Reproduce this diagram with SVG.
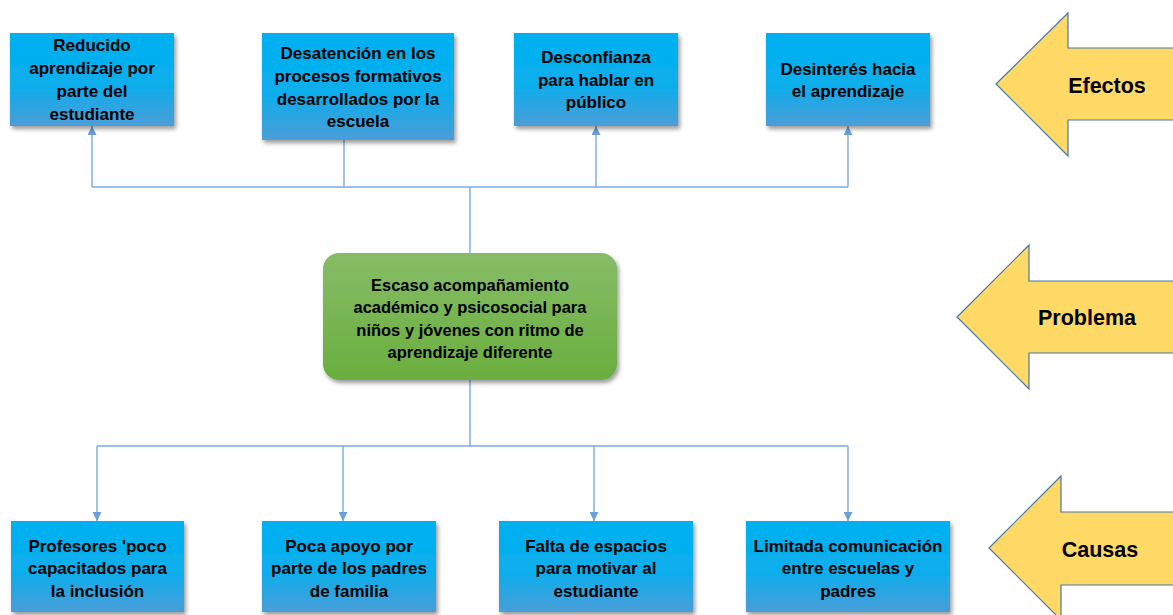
<svg xmlns="http://www.w3.org/2000/svg" width="1173" height="615" viewBox="0 0 1173 615">
<defs>
<linearGradient id="gBlue" x1="0" y1="0" x2="0" y2="1">
<stop offset="0" stop-color="#00B0F0"/>
<stop offset="0.55" stop-color="#0AAEEC"/>
<stop offset="1" stop-color="#4A9DD8"/>
</linearGradient>
<linearGradient id="gGreen" x1="0" y1="0" x2="0" y2="1">
<stop offset="0" stop-color="#86BC67"/>
<stop offset="1" stop-color="#6AAE3E"/>
</linearGradient>
<filter id="sh" x="-10%" y="-10%" width="125%" height="130%">
<feDropShadow dx="2" dy="3" stdDeviation="2" flood-color="#000" flood-opacity="0.4"/>
</filter>
<marker id="ah" viewBox="0 0 10 10" refX="10" refY="5" markerWidth="9" markerHeight="9" markerUnits="userSpaceOnUse" orient="auto">
<path d="M0,0 L10,5 L0,10 z" fill="#6A9FD8"/>
</marker>
</defs>
<style>
.box{fill:url(#gBlue);filter:url(#sh)}
.prob{fill:url(#gGreen);filter:url(#sh)}
.t{font-family:"Liberation Sans",Arial,sans-serif;font-weight:bold;font-size:17px;fill:#000;text-anchor:middle}
.tg{font-family:"Liberation Sans",Arial,sans-serif;font-weight:bold;font-size:16.5px;fill:#000;text-anchor:middle}
.arr{fill:#FFD966;stroke:#4A76A8;stroke-width:1.2}
.lbl{font-family:"Liberation Sans",Arial,sans-serif;font-weight:bold;font-size:21.5px;fill:#000;text-anchor:middle}
.c{fill:none;stroke:#7BAADD;stroke-width:1.4}
</style>
<rect width="1173" height="615" fill="#fff"/>

<g id="connectors">
<path class="c" d="M470,253 V187"/>
<path class="c" d="M92,187 H848"/>
<path class="c" d="M92,187 V126" marker-end="url(#ah)"/>
<path class="c" d="M344,187 V140"/>
<path class="c" d="M596,187 V126" marker-end="url(#ah)"/>
<path class="c" d="M848,187 V126" marker-end="url(#ah)"/>
<path class="c" d="M470,380 V446"/>
<path class="c" d="M97,446 H848"/>
<path class="c" d="M97,446 V521" marker-end="url(#ah)"/>
<path class="c" d="M343,446 V521" marker-end="url(#ah)"/>
<path class="c" d="M594,446 V521" marker-end="url(#ah)"/>
<path class="c" d="M848,446 V521" marker-end="url(#ah)"/>
</g>

<g id="efecto1">
<rect class="box" x="10" y="33" width="164" height="93"/>
<text class="t"><tspan x="92" y="51">Reducido</tspan><tspan x="92" y="74">aprendizaje por</tspan><tspan x="92" y="97">parte del</tspan><tspan x="92" y="120">estudiante</tspan></text>
</g>
<g id="efecto2">
<rect class="box" x="262" y="33" width="192" height="107"/>
<text class="t"><tspan x="358" y="59">Desatención en los</tspan><tspan x="358" y="82">procesos formativos</tspan><tspan x="358" y="105">desarrollados por la</tspan><tspan x="358" y="127">escuela</tspan></text>
</g>
<g id="efecto3">
<rect class="box" x="514" y="33" width="164" height="93"/>
<text class="t"><tspan x="596" y="63">Desconfianza</tspan><tspan x="596" y="86">para hablar en</tspan><tspan x="596" y="108">público</tspan></text>
</g>
<g id="efecto4">
<rect class="box" x="766" y="33" width="164" height="93"/>
<text class="t"><tspan x="848" y="75">Desinterés hacia</tspan><tspan x="848" y="97">el aprendizaje</tspan></text>
</g>

<g id="problema">
<rect class="prob" x="323" y="253" width="294" height="127" rx="16" ry="16"/>
<text class="tg"><tspan x="470" y="291">Escaso acompañamiento</tspan><tspan x="470" y="313">académico y psicosocial para</tspan><tspan x="470" y="336">niños y jóvenes con ritmo de</tspan><tspan x="470" y="358">aprendizaje diferente</tspan></text>
</g>

<g id="causa1">
<rect class="box" x="11" y="521" width="173" height="91"/>
<text class="t"><tspan x="97.5" y="552">Profesores 'poco</tspan><tspan x="97.5" y="574">capacitados para</tspan><tspan x="97.5" y="597">la inclusión</tspan></text>
</g>
<g id="causa2">
<rect class="box" x="262" y="521" width="174" height="91"/>
<text class="t"><tspan x="349" y="552">Poca apoyo por</tspan><tspan x="349" y="574">parte de los padres</tspan><tspan x="349" y="597">de familia</tspan></text>
</g>
<g id="causa3">
<rect class="box" x="499" y="521" width="194" height="91"/>
<text class="t"><tspan x="596" y="552">Falta de espacios</tspan><tspan x="596" y="574">para motivar al</tspan><tspan x="596" y="597">estudiante</tspan></text>
</g>
<g id="causa4">
<rect class="box" x="746" y="521" width="204" height="91"/>
<text class="t"><tspan x="848" y="552">Limitada comunicación</tspan><tspan x="848" y="574">entre escuelas y</tspan><tspan x="848" y="597">padres</tspan></text>
</g>

<g id="flecha-efectos">
<polygon class="arr" points="996,84 1068,13 1068,48 1180,48 1180,120 1068,120 1068,156"/>
<text class="lbl" x="1107" y="93">Efectos</text>
</g>
<g id="flecha-problema">
<polygon class="arr" points="957,317 1029,245 1029,281 1180,281 1180,353 1029,353 1029,389"/>
<text class="lbl" x="1087" y="325">Problema</text>
</g>
<g id="flecha-causas">
<polygon class="arr" points="989,548 1061,476 1061,512 1180,512 1180,585 1061,585 1061,620"/>
<text class="lbl" x="1100" y="557">Causas</text>
</g>
</svg>
